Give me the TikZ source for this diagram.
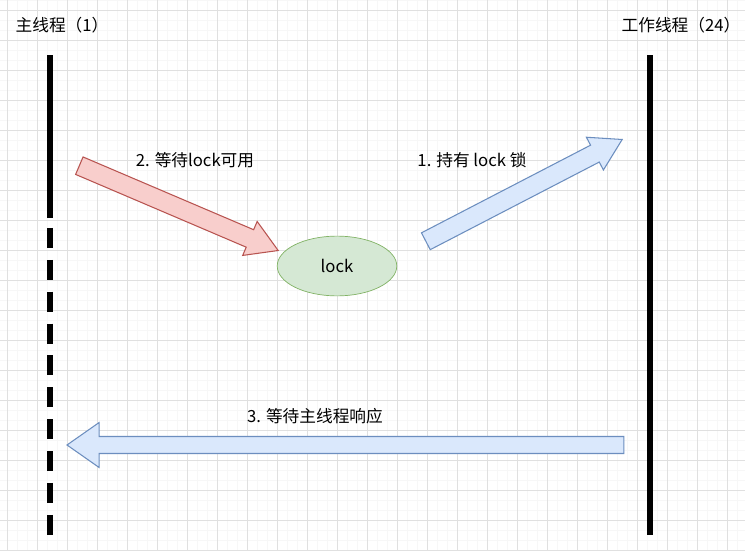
\documentclass[tikz,border=0pt]{standalone}
\usepackage{fontspec}
\setmainfont{Noto Sans CJK SC}
\usetikzlibrary{shapes.arrows,shapes.geometric}
\definecolor{redfill}{HTML}{F8CECC}
\definecolor{redline}{HTML}{B85450}
\definecolor{bluefill}{HTML}{DAE8FC}
\definecolor{blueline}{HTML}{6C8EBF}
\definecolor{greenfill}{HTML}{D5E8D4}
\definecolor{greenline}{HTML}{82B366}
\tikzset{
  lbl/.style={font=\fontsize{9.5}{11}\selectfont},
  thread/.style={line width=6*0.567pt},
  blockarrow/.style={single arrow,draw,minimum width=36*0.567pt,
    single arrow head extend=9*0.567pt,single arrow tip angle=62,
    single arrow head indent=0pt,inner xsep=0pt,inner ysep=9*0.567pt,
    text height=0pt,text depth=0pt,line width=0.6pt},
}
\begin{document}
\begin{tikzpicture}[x=0.02cm,y=-0.02cm]
  % Background grid
  \fill[white] (0,0) rectangle (745,551);
  \useasboundingbox (0,0) rectangle (745,551);
  \foreach \x in {7,17,...,745} \draw[black!3,line width=0.3pt] (\x,0) -- (\x,551);
  \foreach \y in {0,10,...,551} \draw[black!3,line width=0.3pt] (0,\y) -- (745,\y);
  \foreach \x in {7,37,...,745} \draw[black!12,line width=0.4pt] (\x,0) -- (\x,551);
  \foreach \y in {10,40,...,551} \draw[black!12,line width=0.4pt] (0,\y) -- (745,\y);

  % Threads
  \node[lbl] (main) at (62,25) {主线程（1）};
  \node[lbl] (worker) at (681,25) {工作线程（24）};
  \coordinate (mtop) at (50,55);
  \coordinate (mmid) at (50,218);
  \coordinate (mbot) at (50,535);
  \coordinate (wtop) at (650,55);
  \coordinate (wbot) at (650,535);
  \draw[thread] (mtop) -- (mmid);
  \draw[thread,dash pattern=on 20*0.567pt off 12*0.567pt] ([yshift=-10*0.567pt]mmid) -- (mbot);
  \draw[thread] (wtop) -- (wbot);

  % Lock
  \node[ellipse,draw=greenline,fill=greenfill,minimum width=120*0.567pt,
    minimum height=60*0.567pt,lbl] (lock) at (337,266) {lock};

  % Arrows
  \node[blockarrow,fill=redfill,draw=redline,minimum height=217*0.567pt,
    rotate=-23.1] (wait) at (171.5,205) {};
  \node[blockarrow,fill=bluefill,draw=blueline,minimum height=222*0.567pt,
    rotate=27.4] (hold) at (517,194) {};
  \node[blockarrow,fill=bluefill,draw=blueline,minimum height=559*0.567pt,
    minimum width=44*0.567pt,inner ysep=8*0.567pt,single arrow head extend=14*0.567pt,
    single arrow tip angle=70,rotate=180] (reply) at (351.5,445) {};

  % Labels
  \node[lbl] (waitlbl) at (195,160) {2. 等待lock可用};
  \node[lbl] (holdlbl) at (472,160) {1. 持有 lock 锁};
  \node[lbl] (replylbl) at (315,416) {3. 等待主线程响应};
\end{tikzpicture}
\end{document}
